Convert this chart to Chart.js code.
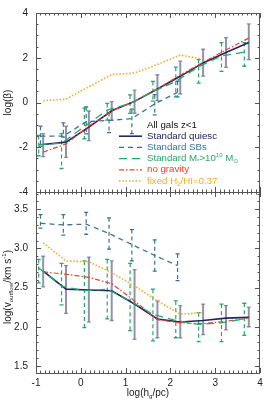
<!DOCTYPE html>
<html>
<head>
<meta charset="utf-8">
<script src="https://cdn.jsdelivr.net/npm/chart.js@4.4.1/dist/chart.umd.min.js"></script>
<style>
    html, body { margin: 0; padding: 0; background: #fff; }
    #wrap { position: relative; width: 264px; height: 402px; }
    canvas { position: absolute; left: 0; }
    #cTop { top: 0; }
    #cBot { top: 190px; }
</style>
</head>
<body>
<div id="wrap">
    <canvas id="cTop" width="264" height="200" style="width:264px;height:200px"></canvas>
    <canvas id="cBot" width="264" height="212" style="width:264px;height:212px"></canvas>
</div>
<script>
// --- datos ---
const xQuiesc = [-0.84, -0.33, 0.18, 0.69, 1.20, 1.71, 2.22, 2.73, 3.24, 3.75];
const xMass   = [-0.94, -0.43, 0.08, 0.59, 1.10, 1.61, 2.12, 2.63, 3.14, 3.65];
const xSB     = [-0.90, -0.39, 0.12, 0.63, 1.14, 1.65, 2.16];
const xFixed  = [-0.84, -0.33, 0.18, 0.69, 1.20, 1.71, 2.22, 2.70];

// panel superior: log(beta)
const betaQuiesc   = [-1.88, -1.77, -1.10, -0.37, 0.05, 0.60, 1.17, 1.77, 2.23, 2.68];
const betaQuiescHi = [-1.39, -1.06, -0.38, 0.04, 0.55, 1.24, 1.85, 2.38, 2.90, 3.51];
const betaQuiescLo = [-2.42, -2.45, -1.70, -0.80, -0.48, 0.08, 0.38, 1.18, 1.57, 1.92];
const betaSB       = [-1.50, -1.50, -0.86, -0.80, -0.72, -0.06, 0.45];
const betaSBHi     = [-1.06, -0.91, -0.20, -0.45, -0.30, 0.35, 0.95];
const betaSBLo     = [-1.95, -1.55, -1.40, -1.35, -1.39, -0.55, 0.25];
const betaMass     = [-1.88, -1.82, -1.08, -0.34, -0.04, 0.49, 0.94, 1.60, 2.08, 2.25];
const betaMassHi   = [-1.47, -1.39, -0.25, -0.04, 0.34, 0.94, 1.58, 1.92, 2.68, 2.68];
const betaMassLo   = [-2.38, -2.95, -1.62, -0.79, -0.49, 0.06, 0.25, 0.87, 1.39, 1.62];
const betaNoGrav   = [-2.22, -1.85, -1.05, -0.38, 0.05, 0.62, 1.22, 1.80, 2.35, 2.88];
const betaFixed    = [0.08, 0.15, 0.70, 1.25, 1.32, 1.70, 2.12, 1.95];

// panel inferior: log(v_outflow)
const vQuiesc   = [2.71, 2.48, 2.47, 2.46, 2.29, 2.10, 2.06, 2.08, 2.11, 2.12];
const vQuiescHi = [2.90, 2.78, 2.89, 2.84, 2.73, 2.33, 2.27, 2.29, 2.27, 2.25];
const vQuiescLo = [2.51, 2.17, 2.06, 2.08, 1.84, 1.86, 1.86, 1.90, 1.96, 2.00];
const vSB       = [3.32, 3.30, 3.31, 3.19, 3.05, 2.91, 2.78];
const vSBHi     = [3.43, 3.43, 3.46, 3.39, 3.24, 3.11, 2.93];
const vSBLo     = [3.26, 3.17, 3.18, 2.99, 2.84, 2.71, 2.59];
const vMass     = [2.75, 2.52, 2.46, 2.48, 2.33, 2.16, 2.08, 2.03, 2.05, 2.10];
const vMassHi   = [2.86, 2.81, 2.84, 2.86, 2.81, 2.48, 2.33, 2.18, 2.29, 2.30];
const vMassLo   = [2.56, 2.28, 1.99, 2.10, 1.95, 1.82, 1.86, 1.81, 1.81, 1.89];
const vNoGrav   = [2.70, 2.67, 2.63, 2.55, 2.33, 2.09, 2.05, 2.04, 2.07, 2.11];
const vFixed    = [3.07, 2.84, 2.83, 2.69, 2.52, 2.33, 2.16, 2.18];

const xTicks    = [-1, 0, 1, 2, 3, 4];
const betaTicks = [-4, -2, 0, 2, 4];
const vTicks    = [1.5, 2.0, 2.5, 3.0, 3.5];

const NAVY = '#25255f', NAVY_BAR = 'rgba(110,110,150,0.75)', TEAL = '#3b7493';
const GREEN = '#27a86a', RED = '#e8432e', ORANGE = '#f7aa2a';
const FONT = "'Liberation Sans', Arial, Helvetica, 'DejaVu Sans', sans-serif";

Chart.defaults.font.family = FONT;

const pts = (xs, ys) => ys.map((v, i) => ({ x: xs[i], y: v }));

function line(xs, ys, color, width, dash) {
    return {
        data: pts(xs, ys), borderColor: color, borderWidth: width, borderDash: dash,
        pointRadius: 0, showLine: true, fill: false, tension: 0
    };
}

// texto con sub/superindices: parts = [[texto, ''|'sub'|'sup'], ...]
function textWidth(ctx, parts, size) {
    let w = 0;
    parts.forEach(p => {
        ctx.font = (p[1] ? size * 0.62 : size) + 'px ' + FONT;
        w += ctx.measureText(p[0]).width;
    });
    return w;
}

function richText(ctx, parts, x, y, size, color) {
    let cx = x - textWidth(ctx, parts, size) / 2;
    ctx.fillStyle = color;
    ctx.textBaseline = 'middle';
    ctx.textAlign = 'left';
    parts.forEach(p => {
        ctx.font = (p[1] ? size * 0.62 : size) + 'px ' + FONT;
        const dy = p[1] === 'sub' ? size * 0.3 : p[1] === 'sup' ? -size * 0.38 : 0;
        ctx.fillText(p[0], cx, y + dy);
        cx += ctx.measureText(p[0]).width;
    });
}

function makeErrorBars(sets) {
    return {
        id: 'errorBars',
        beforeDatasetsDraw(chart) {
            const { ctx, chartArea: a, scales: { x, y } } = chart;
            ctx.save();
            ctx.beginPath();
            ctx.rect(a.left, a.top, a.right - a.left, a.bottom - a.top);
            ctx.clip();
            sets.forEach(s => {
                ctx.strokeStyle = s.color;
                s.x.forEach((xv, i) => {
                    const px = x.getPixelForValue(xv);
                    const top = y.getPixelForValue(s.hi[i]);
                    const bot = y.getPixelForValue(s.lo[i]);
                    ctx.lineWidth = s.width;
                    ctx.setLineDash(s.dash);
                    ctx.beginPath(); ctx.moveTo(px, top); ctx.lineTo(px, bot); ctx.stroke();
                    ctx.setLineDash([]);
                    ctx.lineWidth = 1.3;
                    ctx.beginPath();
                    ctx.moveTo(px - s.cap, top); ctx.lineTo(px + s.cap, top);
                    ctx.moveTo(px - s.cap, bot); ctx.lineTo(px + s.cap, bot);
                    ctx.stroke();
                });
            });
            ctx.restore();
        }
    };
}

// marco estilo IDL: ticks hacia dentro en los cuatro lados + etiquetas
function makeFrame(cfg) {
    return {
        id: 'frameTicks',
        afterDatasetsDraw(chart) {
            const { ctx, chartArea: a, scales: { x, y } } = chart;
            ctx.save();
            ctx.strokeStyle = '#555';
            ctx.lineWidth = 1;
            ctx.strokeRect(a.left + 0.5, a.top + 0.5, a.right - a.left - 1, a.bottom - a.top);
            ctx.beginPath();
            for (let k = -10; k <= 40; k++) {
                const px = Math.round(x.getPixelForValue(k / 10)) + 0.5;
                const len = k % 10 === 0 ? 5 : 2.5;
                ctx.moveTo(px, a.top); ctx.lineTo(px, a.top + len);
                ctx.moveTo(px, a.bottom); ctx.lineTo(px, a.bottom - len);
            }
            const n = Math.round(cfg.yMajor / cfg.yMinor);
            for (let k = Math.ceil(y.min / cfg.yMinor - 1e-6); k * cfg.yMinor <= y.max + 1e-6; k++) {
                const py = Math.round(y.getPixelForValue(k * cfg.yMinor)) + 0.5;
                const len = k % n === 0 ? 5 : 2.5;
                ctx.moveTo(a.left, py); ctx.lineTo(a.left + len, py);
                ctx.moveTo(a.right, py); ctx.lineTo(a.right - len, py);
            }
            ctx.stroke();

            ctx.fillStyle = '#222';
            ctx.font = '10px ' + FONT;
            ctx.textBaseline = 'middle';
            ctx.textAlign = 'right';
            cfg.yTicks.forEach(v => ctx.fillText(cfg.yFmt(v), a.left - 8, y.getPixelForValue(v)));
            if (cfg.xLabels) {
                ctx.textAlign = 'center';
                xTicks.forEach(v => ctx.fillText(String(v), x.getPixelForValue(v), a.bottom + 10));
            }
            ctx.restore();
        }
    };
}

function makeTitles(titles) {
    return {
        id: 'axisTitles',
        afterDraw(chart) {
            const ctx = chart.ctx;
            titles.forEach(t => {
                ctx.save();
                ctx.translate(t.x, t.y);
                if (t.rot) ctx.rotate(-Math.PI / 2);
                richText(ctx, t.parts, 0, 0, 10, '#222');
                ctx.restore();
            });
        }
    };
}

const legendItems = [
    { parts: [['All gals z<1', '']], color: '#111', dash: null },
    { parts: [['Standard quiesc', '']], color: NAVY, dash: [], w: 1.6 },
    { parts: [['Standard SBs', '']], color: TEAL, dash: [5, 4], w: 1.4 },
    { parts: [['Standard M', ''], ['*', 'sub'], ['>10', ''], ['10', 'sup'], [' M', ''], ['\u2299', 'sub']], color: GREEN, dash: [8, 5], w: 1.4 },
    { parts: [['no gravity', '']], color: RED, dash: [5, 2, 1.5, 2], w: 1.3 },
    { parts: [['fixed H', ''], ['2', 'sub'], ['/HI=0.37', '']], color: ORANGE, dash: [1.5, 1.8], w: 1.6 }
];

const legendPlugin = {
    id: 'panelLegend',
    afterDatasetsDraw(chart) {
        const ctx = chart.ctx;
        ctx.save();
        legendItems.forEach((it, i) => {
            const y = 125 + i * 11.2;
            if (it.dash) {
                ctx.strokeStyle = it.color;
                ctx.lineWidth = it.w;
                ctx.setLineDash(it.dash);
                ctx.beginPath(); ctx.moveTo(119, y); ctx.lineTo(142, y); ctx.stroke();
                ctx.setLineDash([]);
            }
            const w = textWidth(ctx, it.parts, 9.7);
            richText(ctx, it.parts, 147 + w / 2, y, 9.7, it.color);
        });
        ctx.restore();
    }
};

const hidden = (min, max) => ({ type: 'linear', min: min, max: max, display: false });

const baseOpts = {
    responsive: false, animation: false,
    plugins: { legend: { display: false }, tooltip: { enabled: false } }
};

new Chart(document.getElementById('cTop'), {
    type: 'scatter',
    data: {
        datasets: [
            line(xFixed, betaFixed, ORANGE, 1.6, [1.5, 1.8]),
            line(xSB, betaSB, TEAL, 1.3, [5, 4]),
            line(xMass, betaMass, GREEN, 1.3, [8, 5]),
            line(xQuiesc, betaNoGrav, RED, 1.2, [5, 2, 1.5, 2]),
            line(xQuiesc, betaQuiesc, NAVY, 1.6, [])
        ]
    },
    options: Object.assign({}, baseOpts, {
        layout: { padding: { top: 13, right: 4, bottom: 8, left: 36 } },
        scales: { x: hidden(-1, 4), y: hidden(-4, 4) }
    }),
    plugins: [
        makeErrorBars([
            { x: xSB, hi: betaSBHi, lo: betaSBLo, color: TEAL, width: 1.2, dash: [4, 3], cap: 2 },
            { x: xMass, hi: betaMassHi, lo: betaMassLo, color: GREEN, width: 1.2, dash: [4, 3], cap: 2 },
            { x: xQuiesc, hi: betaQuiescHi, lo: betaQuiescLo, color: NAVY_BAR, width: 2, dash: [], cap: 2 }
        ]),
        makeFrame({ yMinor: 0.5, yMajor: 2, yTicks: betaTicks, yFmt: v => String(v), xLabels: false }),
        legendPlugin,
        makeTitles([{ x: 8, y: 102.5, rot: true, parts: [['log(\u03B2)', '']] }])
    ]
});

new Chart(document.getElementById('cBot'), {
    type: 'scatter',
    data: {
        datasets: [
            line(xFixed, vFixed, ORANGE, 1.6, [1.5, 1.8]),
            line(xSB, vSB, TEAL, 1.3, [5, 4]),
            line(xMass, vMass, GREEN, 1.3, [8, 5]),
            line(xQuiesc, vNoGrav, RED, 1.2, [5, 2, 1.5, 2]),
            line(xQuiesc, vQuiesc, NAVY, 1.6, [])
        ]
    },
    options: Object.assign({}, baseOpts, {
        layout: { padding: { top: 2, right: 4, bottom: 29, left: 36 } },
        scales: { x: hidden(-1, 4), y: hidden(1.41, 3.72) }
    }),
    plugins: [
        makeErrorBars([
            { x: xSB, hi: vSBHi, lo: vSBLo, color: TEAL, width: 1.2, dash: [4, 3], cap: 2 },
            { x: xMass, hi: vMassHi, lo: vMassLo, color: GREEN, width: 1.2, dash: [4, 3], cap: 2 },
            { x: xQuiesc, hi: vQuiescHi, lo: vQuiescLo, color: NAVY_BAR, width: 2, dash: [], cap: 2 }
        ]),
        makeFrame({ yMinor: 0.1, yMajor: 0.5, yTicks: vTicks, yFmt: v => v.toFixed(1), xLabels: true }),
        makeTitles([
            { x: 8, y: 97, rot: true, parts: [['log(v', ''], ['outflow', 'sub'], ['/km s', ''], ['-1', 'sup'], [')', '']] },
            { x: 148, y: 203.5, rot: false, parts: [['log(h', ''], ['g', 'sub'], ['/pc)', '']] }
        ])
    ]
});
</script>
</body>
</html>
